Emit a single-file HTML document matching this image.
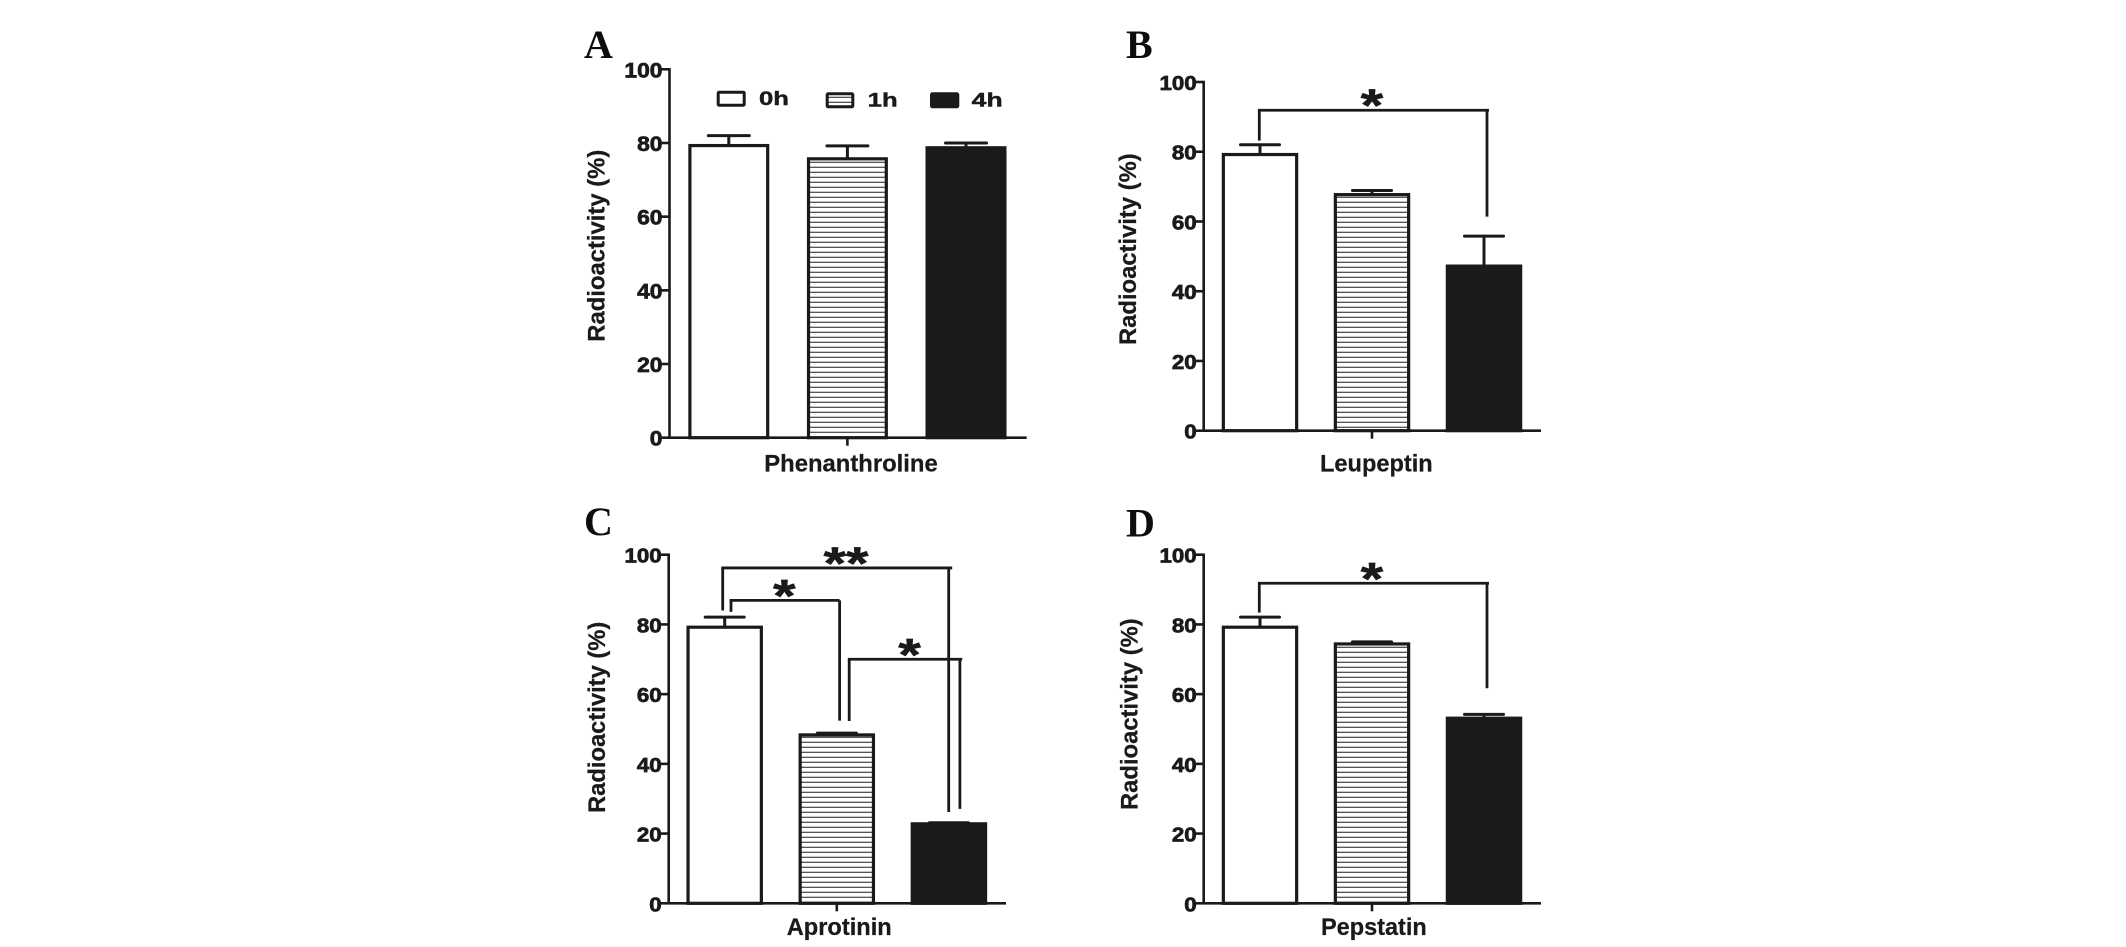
<!DOCTYPE html>
<html lang="en">
<head>
<meta charset="utf-8">
<title>Radioactivity by protease inhibitor</title>
<style>
html,body{margin:0;padding:0;background:#fff;}
svg{display:block;}
text{fill:#1a1a1a;font-family:"Liberation Sans",sans-serif;font-weight:bold;}
.panel-letter{font-family:"Liberation Serif",serif;font-size:40px;fill:#0d0d0d;}
.y-title,.x-title{font-size:24px;stroke:#1a1a1a;stroke-width:0.25px;}
.legend-text{font-size:19px;stroke:#1a1a1a;stroke-width:0.4px;}
.tick-text{stroke:#1a1a1a;stroke-width:0.7px;}
.star-text{stroke:#1a1a1a;stroke-width:0.7px;}
</style>
</head>
<body>
<svg id="figure" width="2126" height="947" viewBox="0 0 2126 947" xmlns="http://www.w3.org/2000/svg">
  <defs>
    <pattern id="stripes" patternUnits="userSpaceOnUse" width="10" height="5">
      <rect x="0" y="0" width="10" height="5" fill="#ffffff"></rect>
      <rect x="0" y="1.7" width="10" height="1.2" fill="#444444"></rect>
    </pattern>
  </defs>
  <rect x="0" y="0" width="2126" height="947" fill="#ffffff"></rect>

  <g id="panel-a">
    <text class="panel-letter" x="584" y="58">A</text>
    <text class="y-title" transform="translate(604.3,341.7) rotate(-90)" x="0" y="0" textLength="192" lengthAdjust="spacingAndGlyphs">Radioactivity (%)</text>
    <text class="x-title" x="764.3" y="471.7" textLength="173.4" lengthAdjust="spacingAndGlyphs">Phenanthroline</text>
    <g>
      <g>
        <rect x="718.2" y="92.2" width="26" height="13" rx="1" fill="#ffffff" stroke="#1a1a1a" stroke-width="3"></rect>
        <text class="legend-text" x="759" y="105" textLength="30" lengthAdjust="spacingAndGlyphs">0h</text>
      </g>
      <g>
        <rect x="827.2" y="93.8" width="25.6" height="13" rx="1" fill="url(#stripes)" stroke="#1a1a1a" stroke-width="3"></rect>
        <text class="legend-text" x="867.7" y="106.7" textLength="30" lengthAdjust="spacingAndGlyphs">1h</text>
      </g>
      <g>
        <rect x="931.5" y="93.8" width="26.3" height="13" rx="1" fill="#1a1a1a" stroke="#1a1a1a" stroke-width="3"></rect>
        <text class="legend-text" x="971.7" y="106.7" textLength="31" lengthAdjust="spacingAndGlyphs">4h</text>
      </g>
    </g>
  </g>

  <g id="panel-b">
    <text class="panel-letter" x="1126" y="58">B</text>
    <text class="y-title" transform="translate(1136,345) rotate(-90)" x="0" y="0" textLength="191.7" lengthAdjust="spacingAndGlyphs">Radioactivity (%)</text>
    <text class="x-title" x="1320" y="471.7" textLength="112.7" lengthAdjust="spacingAndGlyphs">Leupeptin</text>
  </g>

  <g id="panel-c">
    <text class="panel-letter" x="584" y="535">C</text>
    <text class="y-title" transform="translate(605,813) rotate(-90)" x="0" y="0" textLength="191.3" lengthAdjust="spacingAndGlyphs">Radioactivity (%)</text>
    <text class="x-title" x="786.7" y="935" textLength="105" lengthAdjust="spacingAndGlyphs">Aprotinin</text>
  </g>

  <g id="panel-d">
    <text class="panel-letter" x="1126" y="536.5">D</text>
    <text class="y-title" transform="translate(1137.7,810) rotate(-90)" x="0" y="0" textLength="191.7" lengthAdjust="spacingAndGlyphs">Radioactivity (%)</text>
    <text class="x-title" x="1321" y="935" textLength="105.7" lengthAdjust="spacingAndGlyphs">Pepstatin</text>
  </g>
</svg>

<script>
// Chart data
const categories = ['0h', '1h', '4h'];
const tickLabels = ['0', '20', '40', '60', '80', '100'];

const phenanthrolineMeans = [79.3, 75.7, 78.7];
const phenanthrolineErrorTops = [82, 79.2, 80];

const leupeptinMeans = [79.2, 67.7, 47.2];
const leupeptinErrorTops = [82, 68.9, 55.8];
const leupeptinBracketLabels = ['*'];
const leupeptinBracketFrom = [0];
const leupeptinBracketTo = [2];
const leupeptinBracketLevels = [91.9];
const leupeptinBracketLeftEnds = [83.2];
const leupeptinBracketRightEnds = [61.4];

const aprotininMeans = [79.2, 48.3, 22.8];
const aprotininErrorTops = [82.1, 48.8, 23.1];
const aprotininBracketLabels = ['**', '*', '*'];
const aprotininBracketFrom = [0, 0, 1];
const aprotininBracketTo = [2, 1, 2];
const aprotininBracketLevels = [96.2, 86.9, 70];
const aprotininBracketLeftEnds = [84, 83.6, 52.3];
const aprotininBracketRightEnds = [26.2, 52.4, 27.1];

const pepstatinMeans = [79.2, 74.4, 53.1];
const pepstatinErrorTops = [82.1, 75, 54.2];
const pepstatinBracketLabels = ['*'];
const pepstatinBracketFrom = [0];
const pepstatinBracketTo = [2];
const pepstatinBracketLevels = [91.8];
const pepstatinBracketLeftEnds = [83.4];
const pepstatinBracketRightEnds = [61.7];

// Panel geometry
const panelConfigs = [
  { id: 'panel-a', key: 'a', axisX: 669.5, y0: 437.7, y100: 69.3, axisEnd: 1026.7, center0: 728.8, step: 118.6, barW: 81, capW: 41, fs: 21, digitW: 12.3,
    means: phenanthrolineMeans, tops: phenanthrolineErrorTops,
    labels: [], from: [], to: [], levels: [], leftEnds: [], rightEnds: [], leftNudge: [], rightNudge: [], overhang: [], starNudge: [] },
  { id: 'panel-b', key: 'b', axisX: 1203.7, y0: 430.7, y100: 82, axisEnd: 1541, center0: 1260, step: 112, barW: 76.5, capW: 39, fs: 20, digitW: 12,
    means: leupeptinMeans, tops: leupeptinErrorTops,
    labels: leupeptinBracketLabels, from: leupeptinBracketFrom, to: leupeptinBracketTo, levels: leupeptinBracketLevels, leftEnds: leupeptinBracketLeftEnds, rightEnds: leupeptinBracketRightEnds,
    leftNudge: [-0.7], rightNudge: [3], overhang: [2], starNudge: [-1.2] },
  { id: 'panel-c', key: 'c', axisX: 668.7, y0: 903.3, y100: 554.7, axisEnd: 1006, center0: 724.7, step: 112.1, barW: 76.5, capW: 39, fs: 20, digitW: 12,
    means: aprotininMeans, tops: aprotininErrorTops,
    labels: aprotininBracketLabels, from: aprotininBracketFrom, to: aprotininBracketTo, levels: aprotininBracketLevels, leftEnds: aprotininBracketLeftEnds, rightEnds: aprotininBracketRightEnds,
    leftNudge: [-2, 6.3, 12.4], rightNudge: [-0.2, 2.8, 11], overhang: [3.5, 0, 2.3], starNudge: [10.3, -1, 5] },
  { id: 'panel-d', key: 'd', axisX: 1203.7, y0: 903.3, y100: 554.7, axisEnd: 1541, center0: 1260, step: 112, barW: 76.5, capW: 39, fs: 20, digitW: 12,
    means: pepstatinMeans, tops: pepstatinErrorTops,
    labels: pepstatinBracketLabels, from: pepstatinBracketFrom, to: pepstatinBracketTo, levels: pepstatinBracketLevels, leftEnds: pepstatinBracketLeftEnds, rightEnds: pepstatinBracketRightEnds,
    leftNudge: [-0.7], rightNudge: [3], overhang: [2], starNudge: [-1.2] }
];

const SVG_NS = 'http://www.w3.org/2000/svg';
const INK = '#1a1a1a';

function make(parent, tag, attrs) {
  const el = document.createElementNS(SVG_NS, tag);
  Object.keys(attrs).forEach(function (k) { el.setAttribute(k, attrs[k]); });
  parent.appendChild(el);
  return el;
}

function drawLine(parent, x1, y1, x2, y2, width) {
  return make(parent, 'line', { x1: x1, y1: y1, x2: x2, y2: y2, stroke: INK, 'stroke-width': width });
}

panelConfigs.forEach(function (cfg) {
  const root = document.getElementById(cfg.id);
  const yScale = function (v) { return cfg.y0 - (v / 100) * (cfg.y0 - cfg.y100); };
  const xCenter = function (i) { return cfg.center0 + i * cfg.step; };

  // Bars, behind the axes
  cfg.means.forEach(function (v, i) {
    const cat = categories[i];
    const left = xCenter(i) - cfg.barW / 2 + 1.6;
    const top = yScale(v);
    const fill = i === 0 ? '#ffffff' : (i === 1 ? 'url(#stripes)' : INK);
    const bar = make(root, 'rect', { x: left, y: top, width: cfg.barW - 3.2, height: cfg.y0 - top, fill: fill, stroke: INK, 'stroke-width': 3.2 });
    
    

    const errGroup = make(root, 'g', {});
    
    
    const errY = yScale(cfg.tops[i]);
    drawLine(errGroup, xCenter(i), top, xCenter(i), errY, 3);
    make(errGroup, 'line', { x1: xCenter(i) - cfg.capW / 2, y1: errY, x2: xCenter(i) + cfg.capW / 2, y2: errY, stroke: INK, 'stroke-width': 3, 'stroke-linecap': 'round' });
  });

  // Axes
  const yAxis = drawLine(root, cfg.axisX, yScale(100) - 1.2, cfg.axisX, cfg.y0 + 1.2, 2.6);
  
  
  const xAxis = drawLine(root, cfg.axisX, cfg.y0, cfg.axisEnd, cfg.y0, 2.6);
  
  
  const xTick = drawLine(root, xCenter(1), cfg.y0, xCenter(1), cfg.y0 + 8, 2.6);
  
  

  tickLabels.forEach(function (label) {
    const y = yScale(Number(label));
    const tick = drawLine(root, cfg.axisX - 9, y, cfg.axisX, y, 2.6);
    
    
    const txt = make(root, 'text', {
      class: 'tick-text',
      x: cfg.axisX - 7, y: y + 8, 'text-anchor': 'end', 'font-size': cfg.fs,
      textLength: label.length * (cfg.digitW + 0.4), lengthAdjust: 'spacingAndGlyphs'
    });
    txt.textContent = label;
    
    
  });

  // Significance brackets
  cfg.labels.forEach(function (label, b) {
    const g = make(root, 'g', {});
    
    
    const xl = xCenter(cfg.from[b]) + cfg.leftNudge[b];
    const xr = xCenter(cfg.to[b]) + cfg.rightNudge[b];
    const yb = yScale(cfg.levels[b]);
    drawLine(g, xl - 1.4, yb, xr + cfg.overhang[b], yb, 2.8);
    drawLine(g, xl, yb, xl, yScale(cfg.leftEnds[b]), 2.8);
    drawLine(g, xr, yb, xr, yScale(cfg.rightEnds[b]), 2.8);
    const starX = (xl + xr) / 2 + cfg.starNudge[b];
    const star = make(g, 'text', {
      class: 'star-text',
      transform: 'translate(' + starX + ',' + (yb + 11) + ') scale(1.15,0.9)',
      x: 0, y: 0, 'text-anchor': 'middle', 'font-size': 50
    });
    star.textContent = label;
    
    
  });
});
</script>
</body>
</html>
